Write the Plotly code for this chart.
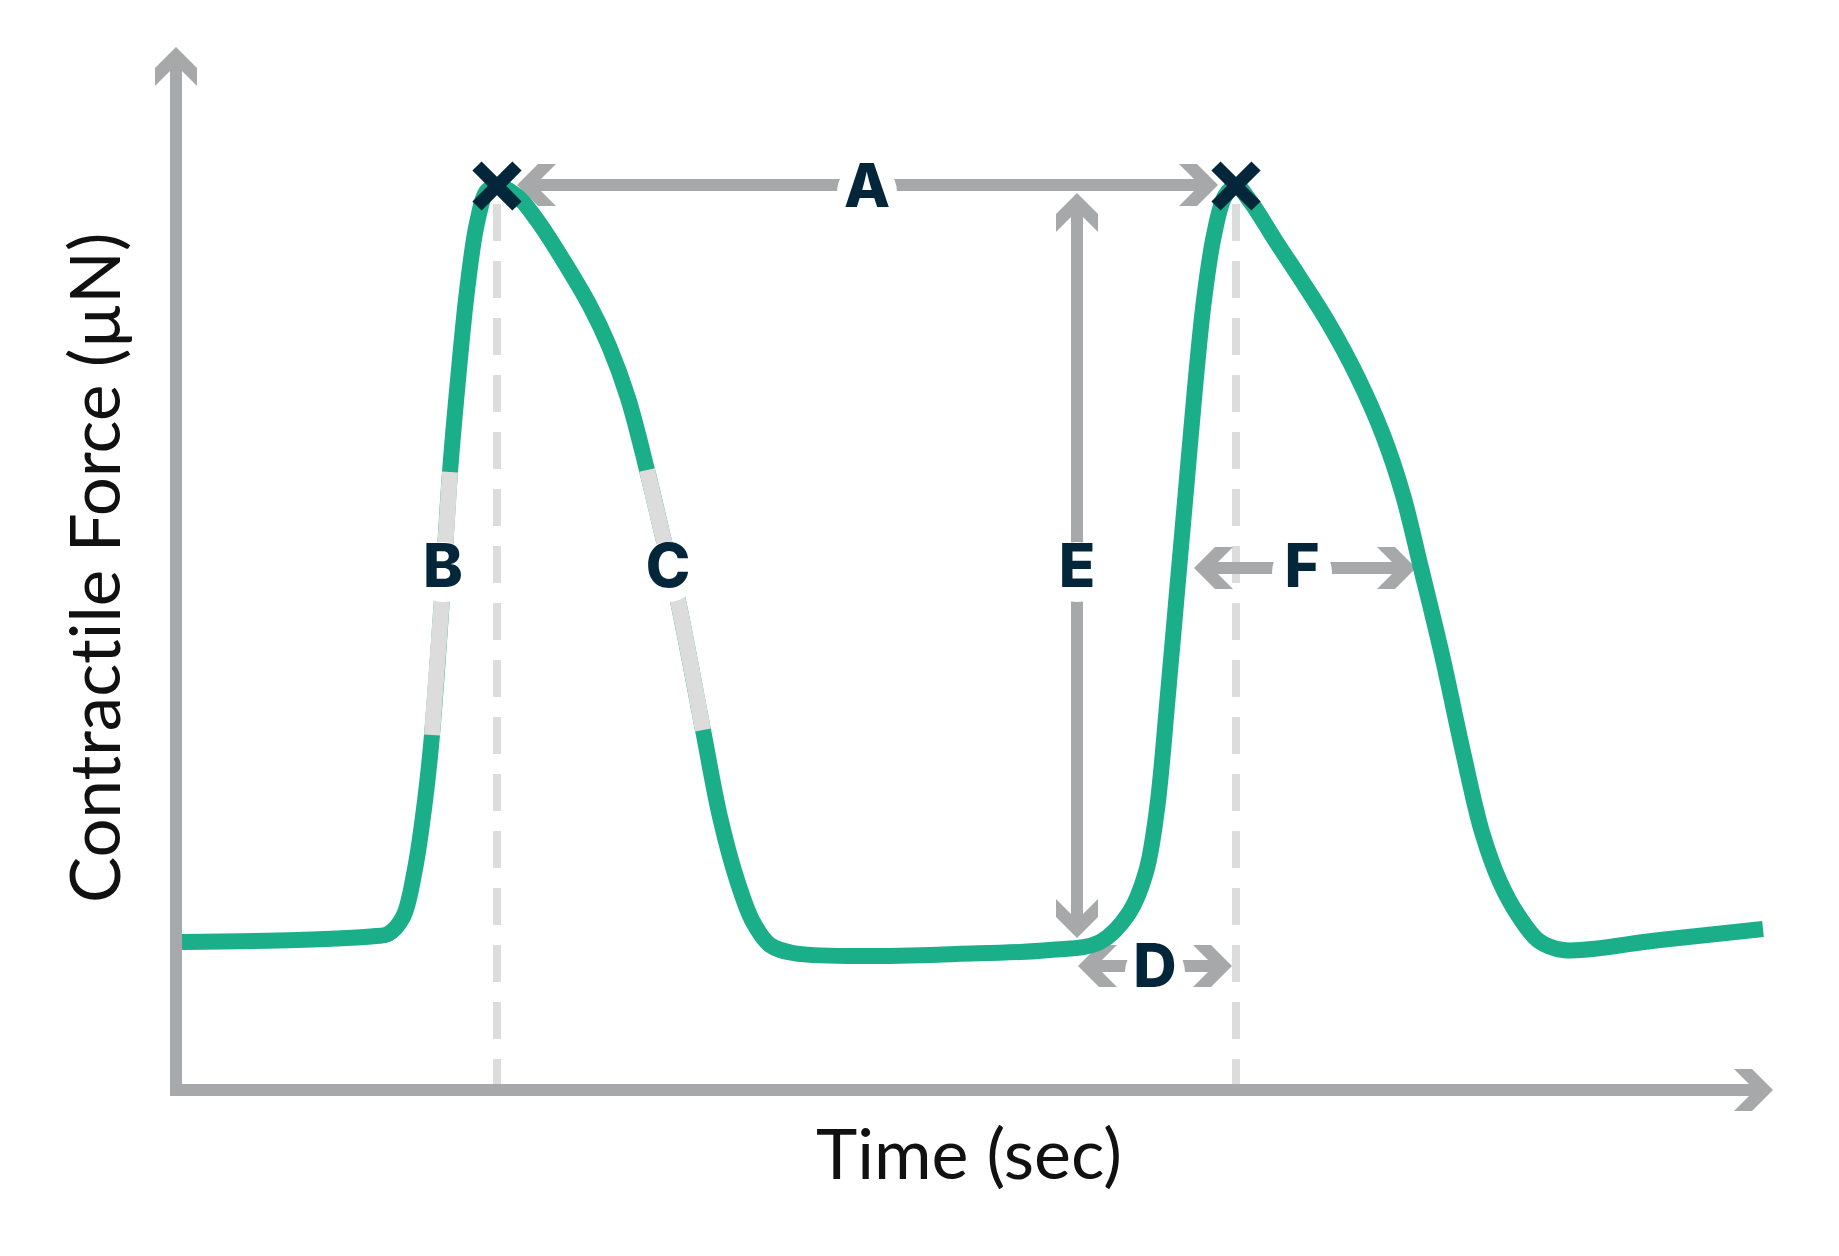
import plotly.graph_objects as go

# force trace (arbitrary units), time in sec from the axis origin
time = [0.06, 1.21, 2.00, 2.12, 2.27, 2.39, 2.49, 2.56, 2.66, 2.74, 2.82, 2.91, 3.01, 3.11, 3.21,
        3.41, 3.61, 3.87, 4.14, 4.33, 4.52, 4.71, 4.86, 5.02, 5.27, 5.44, 5.61, 5.77, 5.94, 6.17,
        6.84, 7.80, 8.74, 9.24, 9.53, 9.70, 9.81, 9.92, 10.01, 10.10, 10.19, 10.28, 10.38, 10.49,
        10.60, 10.74, 10.99, 11.24, 11.53, 11.81, 12.07, 12.27, 12.45, 12.66, 12.87, 13.06, 13.24,
        13.42, 13.63, 13.87, 14.84, 15.87]
force = [1.48, 1.50, 1.54, 1.56, 1.73, 2.21, 2.89, 3.55, 4.92, 6.18, 7.10, 7.99, 8.67, 8.99, 9.04,
         8.94, 8.70, 8.30, 7.84, 7.44, 6.92, 6.20, 5.57, 4.89, 3.60, 2.73, 2.10, 1.68, 1.45, 1.37,
         1.34, 1.36, 1.40, 1.48, 1.77, 2.18, 2.81, 3.96, 4.98, 6.00, 7.02, 7.90, 8.55, 8.94,
         9.04, 8.89, 8.50, 8.12, 7.66, 7.14, 6.55, 5.95, 5.22, 4.35, 3.38, 2.58, 2.08,
         1.75, 1.49, 1.40, 1.50, 1.61]

# peaks of the two contractions
peak_time = [3.21, 10.60]
peak_force = [9.04, 9.04]

# index ranges of the trace that are greyed out (B = rise, C = relaxation)
highlight = [(7, 10), (21, 25)]

# measurement arrows: name, start (t, f), end (t, f)
arrows = [
    ("A", (3.41, 9.05), (10.42, 9.05)),
    ("E", (9.01, 1.52), (9.01, 8.97)),
    ("D", (9.02, 1.24), (10.56, 1.24)),
    ("F", (10.18, 5.22), (12.40, 5.22)),
]

labels = ["A", "B", "C", "D", "E", "F"]
label_t = [6.91, 2.67, 4.92, 9.79, 9.01, 11.26]
label_f = [8.98, 5.18, 5.18, 1.18, 5.18, 5.18]

x_end = 15.97
y_end = 10.43

GREEN = "#1aae89"
GREY = "#a7a8aa"
LIGHT = "#dcdcdc"
NAVY = "#03263b"
HEAD_A = 0.21
HEAD_C = 0.18


def chevron(tx, ty, ux, uy):
    px, py = -uy, ux
    pts = [(0, 0), (-HEAD_A, HEAD_A), (-HEAD_A - HEAD_C, HEAD_A), (-HEAD_C, 0),
           (-HEAD_A - HEAD_C, -HEAD_A), (-HEAD_A, -HEAD_A), (0, 0)]
    xs = [tx + u * ux + v * px for u, v in pts]
    ys = [ty + u * uy + v * py for u, v in pts]
    return go.Scatter(x=xs, y=ys, mode="lines", fill="toself", fillcolor=GREY,
                      line=dict(width=0, color=GREY), hoverinfo="skip")


fig = go.Figure()

# dashed guides at the peaks
for t, f in zip(peak_time, peak_force):
    fig.add_trace(go.Scatter(x=[t, t], y=[f - 0.18, 0], mode="lines",
                             line=dict(color=LIGHT, width=8, dash="37px,20px"), hoverinfo="skip"))

# axes
fig.add_trace(go.Scatter(x=[0, 0, x_end - HEAD_C], y=[y_end - HEAD_C, 0, 0], mode="lines",
                         line=dict(color=GREY, width=12), hoverinfo="skip"))
fig.add_trace(chevron(0, y_end, 0, 1))
fig.add_trace(chevron(x_end, 0, 1, 0))

# measurement arrows
for name, (x0, y0), (x1, y1) in arrows:
    L = ((x1 - x0) ** 2 + (y1 - y0) ** 2) ** 0.5
    ux, uy = (x1 - x0) / L, (y1 - y0) / L
    fig.add_trace(go.Scatter(x=[x0 + ux * HEAD_C, x1 - ux * HEAD_C],
                             y=[y0 + uy * HEAD_C, y1 - uy * HEAD_C], mode="lines",
                             line=dict(color=GREY, width=12), hoverinfo="skip"))
    fig.add_trace(chevron(x0, y0, -ux, -uy))
    fig.add_trace(chevron(x1, y1, ux, uy))

# force trace
fig.add_trace(go.Scatter(x=time, y=force, mode="lines",
                         line=dict(color=GREEN, width=16, shape="spline", smoothing=1.0),
                         hoverinfo="skip"))
for i0, i1 in highlight:
    fig.add_trace(go.Scatter(x=time[i0:i1], y=force[i0:i1], mode="lines",
                             line=dict(color=LIGHT, width=16, shape="spline", smoothing=1.0),
                             hoverinfo="skip"))

# label knock-outs + letters
fig.add_trace(go.Scatter(x=label_t, y=label_f, mode="markers",
                         marker=dict(color="white", size=60, line=dict(width=0)), hoverinfo="skip"))
fig.add_trace(go.Scatter(x=peak_time, y=peak_force, mode="markers",
                         marker=dict(symbol="x-thin", size=40, color=NAVY,
                                     line=dict(color=NAVY, width=13)), hoverinfo="skip"))
fig.add_trace(go.Scatter(x=label_t, y=label_f, mode="text", text=labels,
                         textfont=dict(family="Inter", size=60, color=NAVY, weight=800),
                         hoverinfo="skip"))

fig.add_annotation(x=7.93, y=-0.62, text="Time (sec)", showarrow=False,
                   font=dict(family="Lato", size=70, color="#111111"))
# zero-width non-joiner keeps Lato from using its "ti" ligature
fig.add_annotation(x=-0.83, y=5.22, text="Contract\u200cile Force (µN)", showarrow=False,
                   textangle=-90, font=dict(family="Lato", size=69, color="#111111"))

# ranges nudged by the page's 8px body margin
fig.update_layout(
    width=1839, height=1256,
    margin=dict(l=0, r=0, t=0, b=0),
    paper_bgcolor="white", plot_bgcolor="white",
    showlegend=False,
    xaxis=dict(range=[-1.68, 16.71], visible=False, fixedrange=True),
    yaxis=dict(range=[-1.74, 10.82], visible=False, fixedrange=True),
)

fig.write_html("out.html", config={"displayModeBar": False})
